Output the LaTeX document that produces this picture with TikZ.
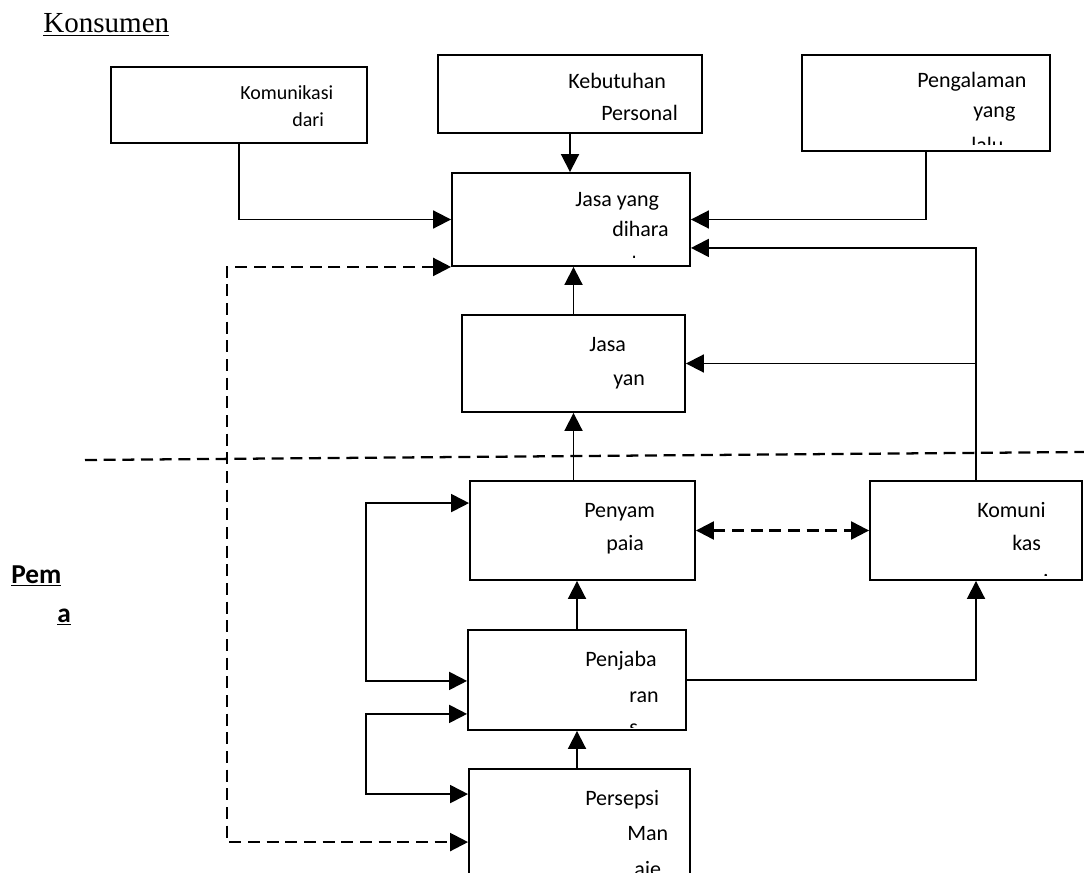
\documentclass[tikz,border=0pt]{standalone}
\usepackage{fontspec}
\setmainfont{Carlito}
\newfontfamily\timesf{Liberation Serif}
\usetikzlibrary{arrows.meta,calc,fit}
\tikzset{
  box/.style={draw, line width=1.4pt, inner sep=0pt},
  txt/.style={inner sep=0pt, anchor=base west, font=\fontsize{16.5pt}{18pt}\selectfont},
  stxt/.style={inner sep=0pt, anchor=base west, font=\fontsize{15pt}{17pt}\selectfont},
  arr/.style={line width=1.4pt, -{Triangle[length=13.5pt,width=13.5pt]}},
  darr/.style={line width=1.7pt, dash pattern=on 9pt off 5pt, {Triangle[length=13.5pt,width=13.5pt]}-{Triangle[length=13.5pt,width=13.5pt]}},
  barr/.style={line width=1.4pt, {Triangle[length=13.5pt,width=13.5pt]}-{Triangle[length=13.5pt,width=13.5pt]}},
  sep/.style={line width=1.7pt, dash pattern=on 9pt off 5pt},
}
\begin{document}
\begin{tikzpicture}[x=0.75pt,y=-0.75pt]
\clip (0,0) rectangle (1084,873);
\fill[white] (0,0) rectangle (1084,873);

% titles
\node[inner sep=0pt, anchor=base west, font=\timesf\fontsize{21.8pt}{24pt}\selectfont] (kons) at (43,33) {\underline{Konsumen}};
\node[inner sep=0pt, anchor=base west, font=\bfseries\fontsize{20.5pt}{22pt}\selectfont] (pem1) at (11,583) {\underline{Pem}};
\node[inner sep=0pt, anchor=base west, font=\bfseries\fontsize{20.5pt}{22pt}\selectfont] (pem2) at (57,622) {\underline{a}};

% boxes
\node[box, fit={(111,67) (367,143)}] (kd) {};
\node[box, fit={(438,55) (702,133)}] (kb) {};
\node[box, fit={(802,55) (1050,151)}] (pg) {};
\node[box, fit={(452,173) (690,266)}] (jy) {};
\node[box, fit={(462,315) (685,412)}] (jn) {};
\node[box, fit={(470,481) (695,580)}] (py) {};
\node[box, fit={(870,481) (1082,580)}] (kr) {};
\node[box, fit={(468,630) (686,730)}] (pj) {};
\node[box, fit={(469,769) (690,900)}] (ps) {};

% box texts
\node[stxt] (kd1) at (240,100) {Komunikasi};
\node[stxt] (kd2) at (292,127) {dari};
\node[txt] (kb1) at (568,89) {Kebutuhan};
\node[txt] (kb2) at (601,121) {Personal};
\node[txt] (pg1) at (917,88) {Pengalaman};
\node[txt] (pg2) at (973,118) {yang};
\begin{scope}
  \clip (802,55) rectangle (1050,145);
  \node[txt] (pg3) at (971,153) {lalu};
\end{scope}
\node[txt] (jy1) at (575,207) {Jasa yang};
\node[txt] (jy2) at (612,237) {dihara};
\begin{scope}
  \clip (452,173) rectangle (690,258);
  \node[txt] (jy3) at (620,272) {pkan};
\end{scope}
\node[txt] (jn1) at (589,351) {Jasa};
\node[txt] (jn2) at (613,385) {yan};
\node[txt] (py1) at (584,517) {Penyam};
\node[txt] (py2) at (606,550) {paia};
\node[txt] (kr1) at (977,517) {Komuni};
\node[txt] (kr2) at (1012,550) {kas};
\begin{scope}
  \clip (870,481) rectangle (1082,575);
  \node[txt] (kr3) at (1043,589) {i};
\end{scope}
\node[txt] (pj1) at (585,666) {Penjaba};
\node[txt] (pj2) at (629,702) {ran};
\begin{scope}
  \clip (468,630) rectangle (686,727);
  \node[txt] (pj3) at (629,734) {s};
\end{scope}
\node[txt] (ps1) at (585,805) {Persepsi};
\node[txt] (ps2) at (627,840) {Man};
\node[txt] (ps3) at (634,876) {aje};

% separator
\coordinate (sepL) at (85,460);
\coordinate (sepR) at (1084,452);
\draw[sep] (sepL) -- (sepR);

% connectors
\draw[arr] (kd.south) |- (jy.west);
\draw[arr] (kb.south) -- (kb.south |- jy.north);
\draw[arr] (pg.south) |- (jy.east);
\draw[arr] (kr.north) |- ($(jy.south east)+(0,-19)$);
\draw[arr] (kr.north |- jn.east) -- (jn.east);
\draw[arr] (jn.north) -- (jn.north |- jy.south);
\draw[arr] (py.north -| jn.south) -- (jn.south);
\draw[arr] (pj.north) -- (pj.north |- py.south);
\draw[arr] (ps.north -| pj.south) -- (pj.south);
\draw[arr] (pj.east) -| (kr.south);
\draw[darr] (py.east) -- (kr.west);
\draw[barr] ($(py.north west)+(0,23)$) -- ++(-103,0) |- ($(pj.south west)+(0,-50)$);
\draw[barr] ($(pj.south west)+(0,-17)$) -- ++(-101,0) |- ($(ps.north west)+(0,26)$);
\draw[darr] (jy.south west) -- ++(-224,0) |- ($(ps.north west)+(0,74)$);
\end{tikzpicture}
\end{document}
